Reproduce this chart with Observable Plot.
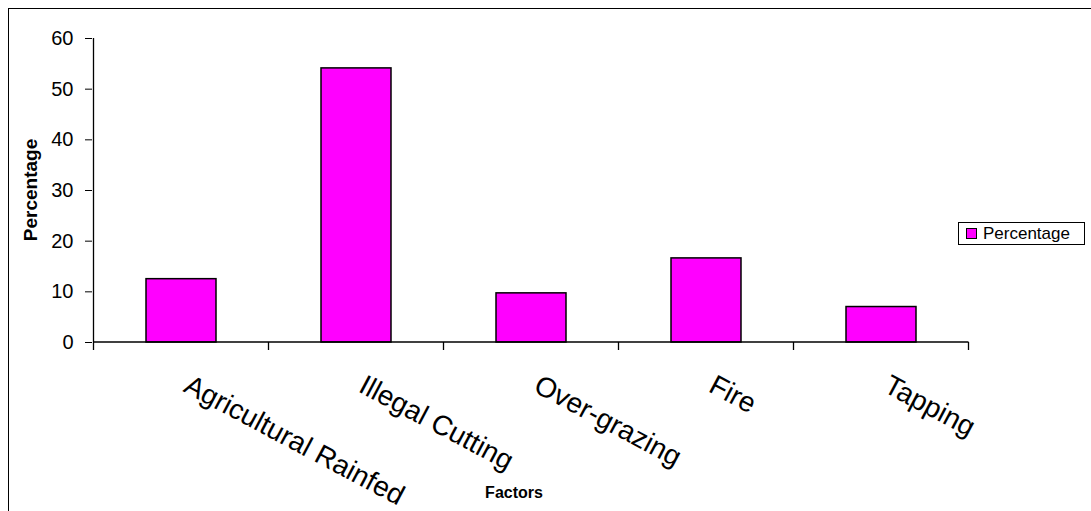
<!DOCTYPE html>
<html>
<head>
<meta charset="utf-8">
<script src="https://cdn.jsdelivr.net/npm/d3@7"></script>
<script src="https://cdn.jsdelivr.net/npm/@observablehq/plot@0.6"></script>
<style>
  html, body { margin: 0; padding: 0; background: #fff; overflow: hidden; }
  body { width: 1091px; height: 511px; position: relative; font-family: "Liberation Sans", Arial, sans-serif; }
  #frame { position: absolute; left: 8px; top: 8px; width: 1300px; height: 700px; border: 1.5px solid #000; box-sizing: border-box; }
  #chart { position: absolute; left: 0; top: 0; }
  #ylabel { position: absolute; left: 31px; top: 190px; transform: translate(-50%, -50%) rotate(-90deg); font-weight: bold; font-size: 19px; white-space: nowrap; color: #000; }
  #xlabel { position: absolute; left: 514px; top: 493px; transform: translate(-50%, -50%); font-weight: bold; font-size: 16px; white-space: nowrap; color: #000; }
  #legend { position: absolute; left: 958px; top: 222px; width: 127px; height: 23px; border: 1px solid #000; box-sizing: border-box; background: #fff; display: flex; align-items: center; }
  #legend .sw { width: 9px; height: 9px; background: #ff00ff; border: 1px solid #000; margin-left: 7px; margin-right: 6px; }
  #legend .lt { font-size: 17px; color: #000; }
</style>
</head>
<body>
<div id="frame"></div>
<div id="chart"></div>
<div id="ylabel">Percentage</div>
<div id="xlabel">Factors</div>
<div id="legend"><div class="sw"></div><div class="lt">Percentage</div></div>
<script>
const categories = ["Agricultural Rainfed", "Illegal Cutting", "Over-grazing", "Fire", "Tapping"];
const percentages = [12.5, 54.1, 9.7, 16.6, 7.0];
const yTicks = [0, 10, 20, 30, 40, 50, 60];
const seriesName = "Percentage";

const data = categories.map((c, i) => ({factor: c, pct: percentages[i]}));

const plot = Plot.plot({
  width: 1091,
  height: 511,
  marginLeft: 92,
  marginRight: 121,
  marginTop: 38,
  marginBottom: 169,
  style: {fontFamily: "'Liberation Sans', Arial, sans-serif", background: "transparent", color: "#000"},
  x: {domain: categories, paddingInner: 0.6, paddingOuter: 0.3, axis: null},
  y: {domain: [0, 60], axis: null},
  marks: [
    Plot.barY(data, {x: "factor", y: "pct", fill: "#ff00ff", stroke: "#000", strokeWidth: 1.5}),
    Plot.axisY({ticks: yTicks, tickSize: 7, tickPadding: 12, fontSize: 20, label: null}),
    Plot.text(categories, {x: d => d, frameAnchor: "bottom", rotate: 28, textAnchor: "start", lineAnchor: "top", dy: 31, dx: 10, fontSize: 28, fill: "#000"})
  ]
});
document.getElementById("chart").appendChild(plot);

// axis lines and category boundary ticks derived from the plot's scales
const xs = plot.scale("x");
const ys = plot.scale("y");
const svg = d3.select(plot);
const y0 = ys.apply(0), yTop = ys.apply(yTicks[yTicks.length - 1]);
const gap = (xs.step - xs.bandwidth) / 2;
const bounds = categories.map(c => xs.apply(c) - gap);
bounds.push(xs.apply(categories[categories.length - 1]) + xs.bandwidth + gap);
const g = svg.append("g").attr("stroke", "#000").attr("stroke-width", 1.3);
g.append("line").attr("x1", bounds[0]).attr("x2", bounds[bounds.length - 1]).attr("y1", y0).attr("y2", y0);
g.append("line").attr("x1", bounds[0]).attr("x2", bounds[0]).attr("y1", yTop).attr("y2", y0);
bounds.forEach(b => g.append("line").attr("x1", b).attr("x2", b).attr("y1", y0).attr("y2", y0 + 8));
</script>
</body>
</html>
